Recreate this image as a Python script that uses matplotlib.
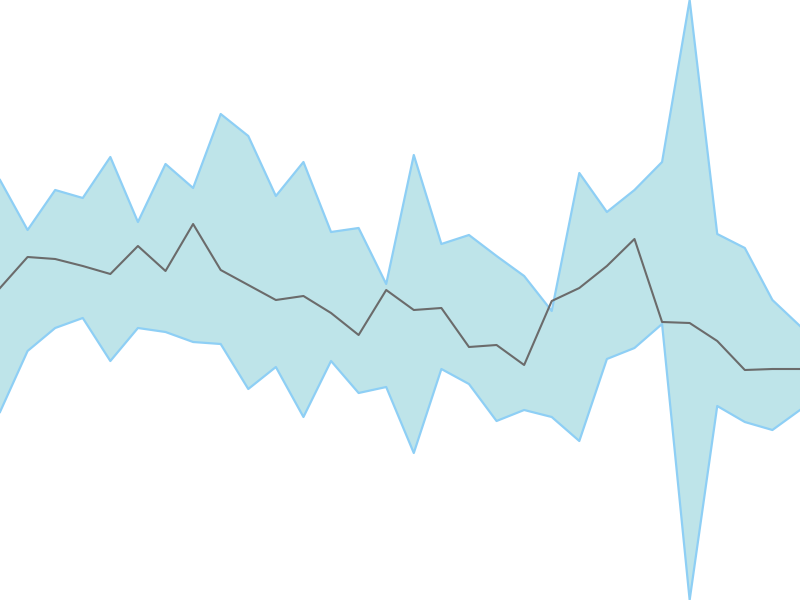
import matplotlib
matplotlib.use("Agg")
import matplotlib.pyplot as plt

# values (pixel rows, top = 0)
idx = list(range(30))
upper = [180, 230, 190, 198, 157, 222, 164, 188, 114, 136, 196, 162, 232, 228, 284,
         155, 244, 235, 256, 276, 311, 173, 212, 190, 162, 0, 234, 248, 300, 326]
middle = [288, 257, 259, 266, 274, 246, 271, 224, 270, 285, 300, 296, 313, 335, 290,
          310, 308, 347, 345, 365, 301, 288, 266, 239, 322, 323, 341, 370, 369, 369]
lower = [412, 351, 328, 318, 361, 328, 332, 342, 344, 389, 367, 417, 361, 393, 387,
         453, 369, 384, 421, 410, 417, 441, 359, 348, 324, 600, 406, 422, 430, 410]

fig = plt.figure(figsize=(8, 6), dpi=100)
ax = fig.add_axes([0, 0, 1, 1])
ax.fill_between(idx, upper, lower, color="#bee4e9", linewidth=0)
ax.plot(idx, upper, color="#8ecff5", lw=1.6)
ax.plot(idx, lower, color="#8ecff5", lw=1.6)
ax.plot(idx, middle, color="#6b6b6b", lw=1.5)
ax.set_xlim(0, 29)
ax.set_ylim(600, 0)
ax.axis("off")
fig.savefig("out.png")
